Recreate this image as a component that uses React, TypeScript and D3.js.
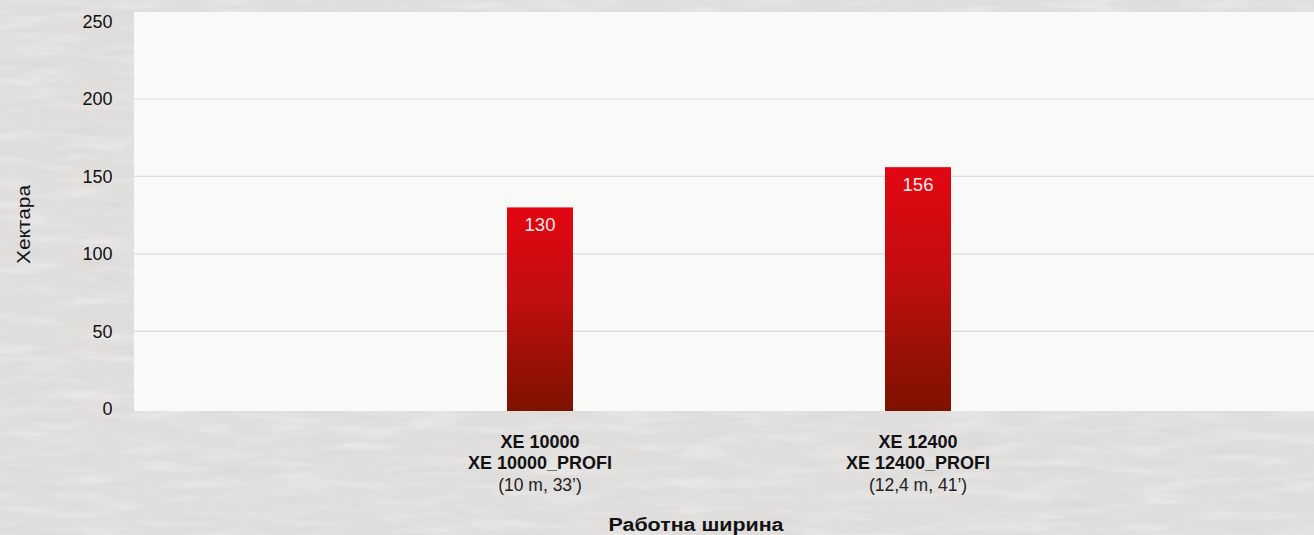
import React from "react";
import * as d3 from "d3";

const categories = ["XE 10000", "XE 12400"];
const subLabels = ["XE 10000_PROFI", "XE 12400_PROFI"];
const widthLabels = ["(10 m, 33’)", "(12,4 m, 41’)"];
const values = [130, 156];
const yTicks = [0, 50, 100, 150, 200, 250];
const xTitle = "Работна ширина";
const yTitle = "Хектара";

const W = 1314;
const H = 535;
const FONT = "'Liberation Sans', Arial, Helvetica, sans-serif";

export default function App() {
  const plotLeft = 134;
  const plotRight = W;
  const plotTop = 12;
  const plotBottom = 411;
  const y = d3.scaleLinear().domain([0, 250]).range([408.7, 21.6]);
  const x = d3.scaleBand<string>().domain(categories).range([351, 1107]).padding(0);
  const barW = 66;

  return (
    <svg width={W} height={H} style={{ position: "absolute", left: 0, top: 0 }}>
      <defs>
        <linearGradient id="barGrad" x1="0" y1="0" x2="0" y2="1">
          <stop offset="0%" stopColor="#e30613" />
          <stop offset="45%" stopColor="#c00e0e" />
          <stop offset="100%" stopColor="#7c1200" />
        </linearGradient>
        <filter id="straw" x="0" y="0" width="100%" height="100%">
          <feTurbulence type="fractalNoise" baseFrequency="0.015 0.09" numOctaves="4" seed="7" result="n" />
          <feColorMatrix
            in="n"
            type="matrix"
            values="0 0 0 0 1  0 0 0 0 1  0 0 0 0 1  1.6 0 0 0 -0.7"
          />
        </filter>
        <filter id="straw2" x="0" y="0" width="100%" height="100%">
          <feTurbulence type="fractalNoise" baseFrequency="0.02 0.12" numOctaves="3" seed="3" result="n" />
          <feColorMatrix
            in="n"
            type="matrix"
            values="0 0 0 0 0.6  0 0 0 0 0.59  0 0 0 0 0.57  0 1.4 0 0 -0.75"
          />
        </filter>
      </defs>
      <rect x={0} y={0} width={W} height={H} fill="#dfdedc" />
      <rect x={0} y={0} width={W} height={H} filter="url(#straw2)" opacity={0.35} />
      <rect x={0} y={0} width={W} height={H} filter="url(#straw)" opacity={0.45} />

      <rect x={plotLeft} y={plotTop} width={plotRight - plotLeft} height={plotBottom - plotTop} fill="#f9f9f8" />

      {yTicks.filter((t) => t > 0 && t < 250).map((t) => (
        <line key={t} x1={plotLeft} x2={plotRight} y1={y(t)} y2={y(t)} stroke="#dcdcdc" strokeWidth={1.2} />
      ))}

      {yTicks.map((t) => (
        <text key={t} x={112.5} y={y(t)} dy="0.35em" textAnchor="end" fontFamily={FONT} fontSize={18} fill="#111">
          {t}
        </text>
      ))}

      <text
        transform={`translate(29.5,${224.5}) rotate(-90)`}
        textAnchor="middle"
        fontFamily={FONT}
        fontSize={18}
        textLength={79}
        lengthAdjust="spacingAndGlyphs"
        fill="#111"
      >
        {yTitle}
      </text>

      {categories.map((c, i) => {
        const cx = (x(c) as number) + x.bandwidth() / 2;
        return (
          <g key={c}>
            <rect x={cx - barW / 2} y={y(values[i])} width={barW} height={plotBottom - y(values[i])} fill="url(#barGrad)" />
            <text x={cx} y={y(values[i]) + 24} textAnchor="middle" fontFamily={FONT} fontSize={18.5} fill="#fbe6e6">
              {values[i]}
            </text>
            <text x={cx} y={447.7} textAnchor="middle" fontFamily={FONT} fontSize={18} fontWeight="bold" fill="#111">
              {c}
            </text>
            <text x={cx} y={469.3} textAnchor="middle" fontFamily={FONT} fontSize={18} fontWeight="bold" fill="#111">
              {subLabels[i]}
            </text>
            <text x={cx} y={490.9} textAnchor="middle" fontFamily={FONT} fontSize={17.5} fill="#222">
              {widthLabels[i]}
            </text>
          </g>
        );
      })}

      <text
        x={696}
        y={530.5}
        textAnchor="middle"
        fontFamily={FONT}
        fontSize={18}
        fontWeight="bold"
        textLength={175}
        lengthAdjust="spacingAndGlyphs"
        fill="#111"
      >
        {xTitle}
      </text>
    </svg>
  );
}
